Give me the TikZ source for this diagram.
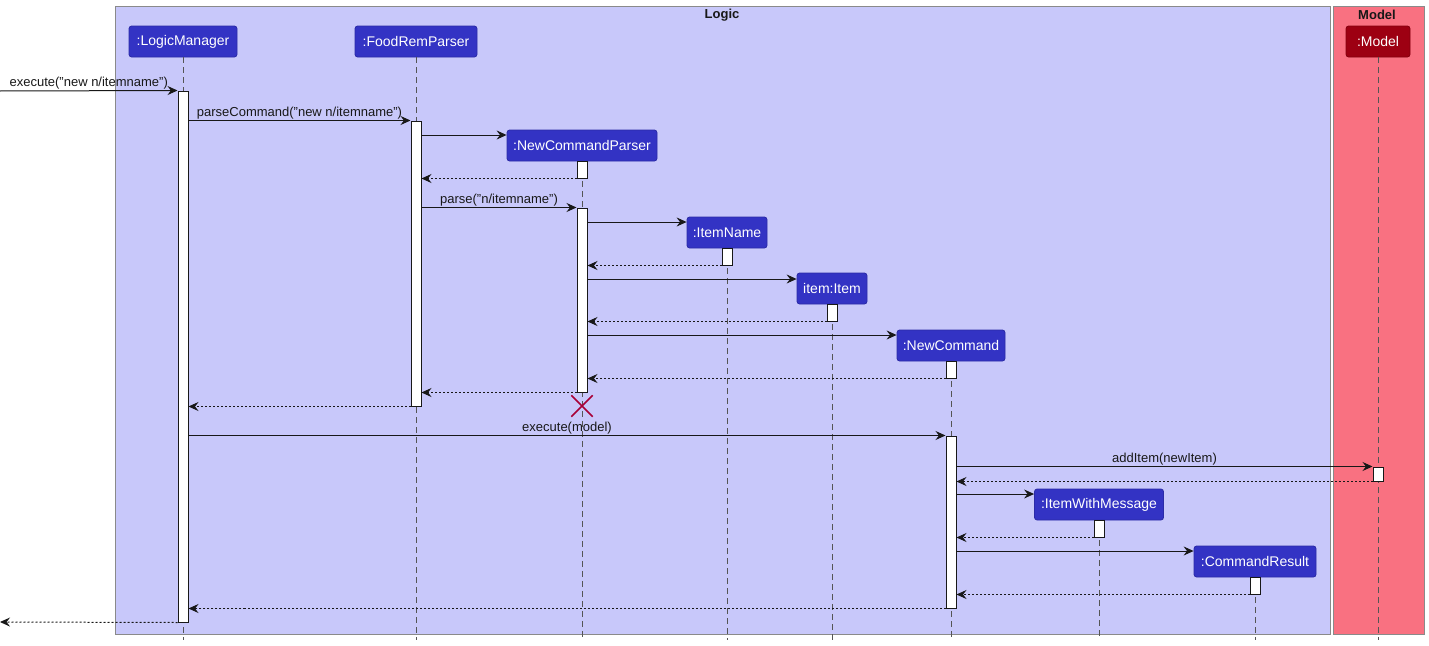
\documentclass[tikz,border=0pt]{standalone}
\usepackage{fontspec}
\setmainfont{Liberation Sans}
\usetikzlibrary{arrows.meta,fit,shapes.misc}
\definecolor{logicbg}{HTML}{C8C8FA}
\definecolor{modelbg}{HTML}{F97181}
\definecolor{logicp}{HTML}{3333C4}
\definecolor{modelp}{HTML}{9D0012}
\definecolor{framegray}{HTML}{8A8A8A}
\definecolor{lifegray}{HTML}{555555}
\definecolor{destroyred}{HTML}{A80036}
\definecolor{ink}{HTML}{181818}
\begin{document}
\begin{tikzpicture}[x=0.75pt,y=-0.75pt,
  frame/.style={draw=framegray, line width=0.75pt, inner sep=0pt},
  grouptitle/.style={font=\bfseries\fontsize{9.75pt}{11pt}\selectfont, text=ink, inner sep=0pt},
  part/.style={draw=#1!85!black, fill=#1, rounded corners=2pt, text=white,
    font=\fontsize{10.5pt}{12pt}\selectfont, inner sep=0pt, minimum height=31*0.75pt, line width=0.6pt},
  act/.style={draw=ink, fill=white, line width=0.75pt, inner sep=0pt},
  life/.style={draw=lifegray, line width=0.75pt, dash pattern=on 4.5pt off 3pt},
  msg/.style={draw=ink, line width=0.75pt, -{Stealth[length=7.5pt,width=6.75pt,inset=2.6pt]}},
  ret/.style={msg, dash pattern=on 1.5pt off 1.5pt},
  lbl/.style={above, inner sep=0.6pt, font=\fontsize{9.75pt}{11pt}\selectfont, text=ink},
  destroy/.style={cross out, draw=destroyred, line width=1.1pt, minimum size=15pt, inner sep=0pt}
]
\useasboundingbox (0,0) rectangle (1429,646);

% groups
\node[frame, fill=logicbg, fit={(115,6)(1330,634)}] (logic) {};
\node[frame, fill=modelbg, fit={(1333,6)(1424,634)}] (model) {};
\node[grouptitle] (logicT) at (722,15) {Logic};
\node[grouptitle] (modelT) at (1377,15) {Model};

% row helpers
\coordinate (bottom) at (0,640);
\coordinate (r135) at (0,135);
\coordinate (r222) at (0,222);
\coordinate (r279) at (0,279);
\coordinate (r335) at (0,335);
\coordinate (r494) at (0,494);
\coordinate (r551) at (0,551);

% participants
\node[part=logicp, minimum width=108*0.75pt] (lm) at (183,41.5) {:LogicManager};
\node[part=logicp, minimum width=122*0.75pt] (fr) at (416,41.5) {:FoodRemParser};
\node[part=logicp, minimum width=150*0.75pt] (ncp) at (582,145.5) {:NewCommandParser};
\node[part=logicp, minimum width=80*0.75pt] (in) at (727,232.5) {:ItemName};
\node[part=logicp, minimum width=70*0.75pt] (it) at (832,288.5) {item:Item};
\node[part=logicp, minimum width=108*0.75pt] (nc) at (951,345.5) {:NewCommand};
\node[part=logicp, minimum width=129*0.75pt] (iwm) at (1099,504.5) {:ItemWithMessage};
\node[part=logicp, minimum width=122*0.75pt] (cr) at (1255,561.5) {:CommandResult};
\node[part=modelp, minimum width=64*0.75pt] (mo) at (1378,41.5) {:Model};

% lifelines
\foreach \p in {lm,fr,ncp,in,it,nc,iwm,cr,mo}
  \draw[life] (\p.south) -- (\p.south |- bottom);

% activations
\node[act, fit={(178,91)(188,622)}] (lmA) {};
\node[act, fit={(411,121)(421,406)}] (frA) {};
\node[act, fit={(577,161)(587,178)}] (ncpA1) {};
\node[act, fit={(577,208)(587,392)}] (ncpA2) {};
\node[act, fit={(722,248)(732,265)}] (inA) {};
\node[act, fit={(827,304)(837,321)}] (itA) {};
\node[act, fit={(946,361)(956,378)}] (ncA1) {};
\node[act, fit={(946,436)(956,608)}] (ncA2) {};
\node[act, fit={(1373,467)(1383,481)}] (moA) {};
\node[act, fit={(1094,520)(1104,537)}] (iwmA) {};
\node[act, fit={(1250,577)(1260,594)}] (crA) {};

% free ends
\coordinate (ext) at (0,91);
\coordinate (out) at (0,622);

% messages
\draw[msg] (ext) -- node[lbl]{execute("new n/itemname")} (lmA.north west);
\draw[msg] (lmA.east |- frA.north) -- node[lbl]{parseCommand("new n/itemname")} (frA.north west);
\draw[msg] (frA.east |- r135) -- (ncp.west |- r135);
\draw[ret] (ncpA1.south west) -- (frA.east |- ncpA1.south);
\draw[msg] (frA.east |- ncpA2.north) -- node[lbl]{parse("n/itemname")} (ncpA2.north west);
\draw[msg] (ncpA2.east |- r222) -- (in.west |- r222);
\draw[ret] (inA.south west) -- (ncpA2.east |- inA.south);
\draw[msg] (ncpA2.east |- r279) -- (it.west |- r279);
\draw[ret] (itA.south west) -- (ncpA2.east |- itA.south);
\draw[msg] (ncpA2.east |- r335) -- (nc.west |- r335);
\draw[ret] (ncA1.south west) -- (ncpA2.east |- ncA1.south);
\draw[ret] (ncpA2.south west) -- (frA.east |- ncpA2.south);
\draw[ret] (frA.south west) -- (lmA.east |- frA.south);
\node[destroy] (dx) at (582,406) {};
\draw[msg] (lmA.east |- ncA2.north) -- node[lbl]{execute(model)} (ncA2.north west);
\draw[msg] (ncA2.east |- moA.north) -- node[lbl]{addItem(newItem)} (moA.north west);
\draw[ret] (moA.south west) -- (ncA2.east |- moA.south);
\draw[msg] (ncA2.east |- r494) -- (iwm.west |- r494);
\draw[ret] (iwmA.south west) -- (ncA2.east |- iwmA.south);
\draw[msg] (ncA2.east |- r551) -- (cr.west |- r551);
\draw[ret] (crA.south west) -- (ncA2.east |- crA.south);
\draw[ret] (ncA2.south west) -- (lmA.east |- ncA2.south);
\draw[ret] (lmA.south west) -- (out);
\end{tikzpicture}
\end{document}
